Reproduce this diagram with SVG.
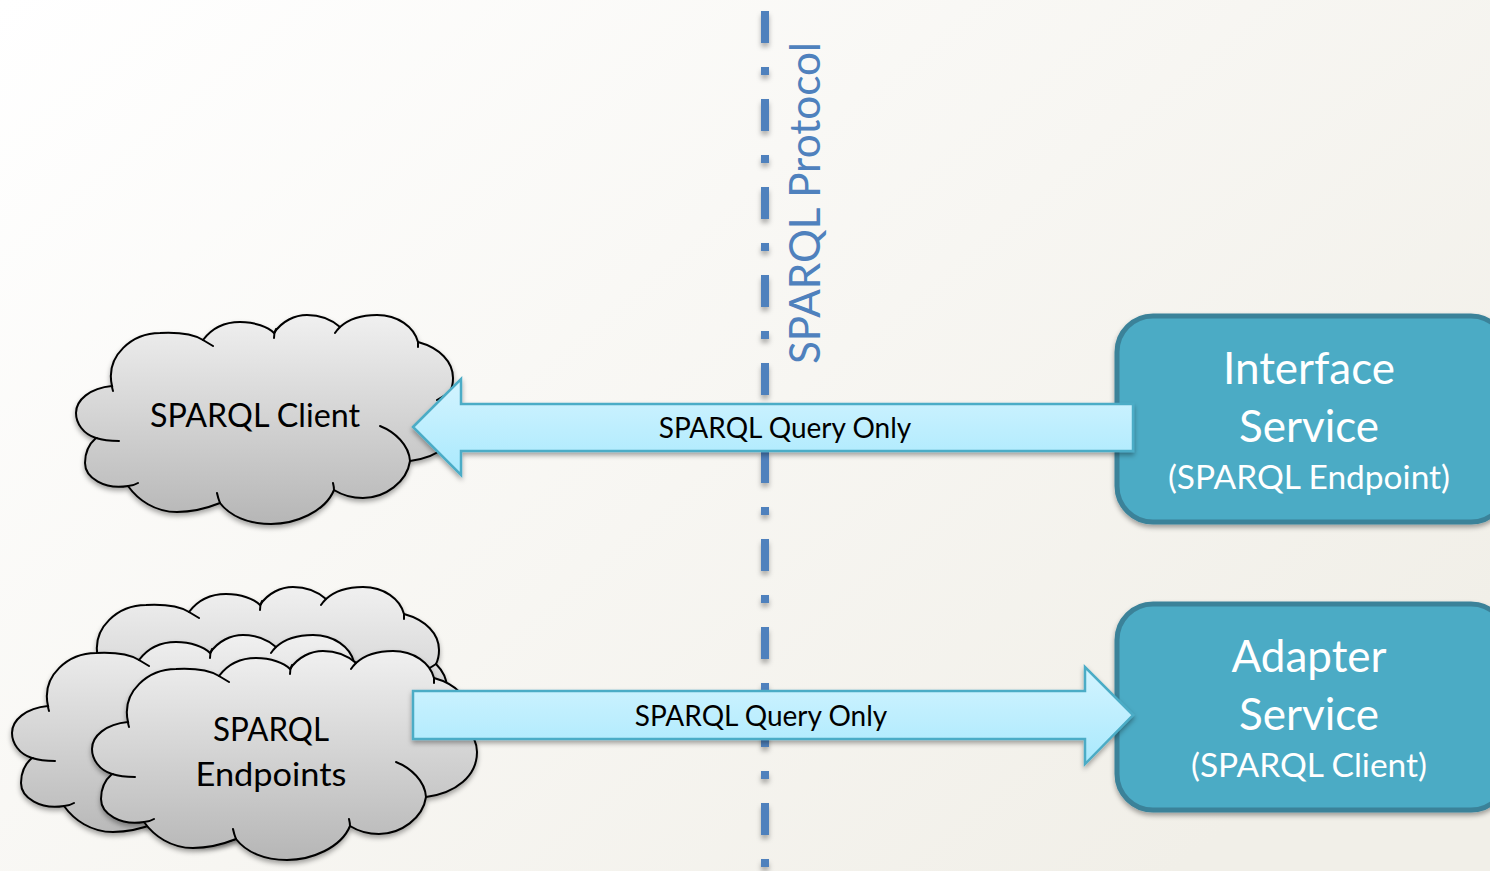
<svg xmlns="http://www.w3.org/2000/svg" width="1490" height="871" viewBox="0 0 1490 871">
<defs>
<linearGradient id="bg" x1="0" y1="0" x2="1" y2="0.7"><stop offset="0" stop-color="#ffffff"/><stop offset="1" stop-color="#f1efe8"/></linearGradient>
<linearGradient id="cg" x1="0" y1="0" x2="0" y2="1"><stop offset="0" stop-color="#f0f0f0"/><stop offset="1" stop-color="#b6b6b6"/></linearGradient>
<linearGradient id="ag" x1="0" y1="0" x2="0" y2="1"><stop offset="0" stop-color="#d4f4ff"/><stop offset="1" stop-color="#a9e9fd"/></linearGradient>
<filter id="sh" x="-10%" y="-10%" width="120%" height="125%"><feDropShadow dx="0" dy="3" stdDeviation="2.5" flood-color="#000" flood-opacity=".35"/></filter>
<filter id="lsh" filterUnits="userSpaceOnUse" x="745" y="0" width="40" height="871"><feDropShadow dx="0" dy="4" stdDeviation="2.5" flood-color="#000" flood-opacity=".3"/></filter>
<g id="cloud">
<path class="cf" d="M112 386C105 355 133 333 160 333C180 332 195 335 203 340C212 328 225 322 240 322C255 322 268 327 274 333C282 321 295 315 307 315C320 315 332 320 340 327C350 318 362 315 377 315C398 315 414 327 418 342C440 348 453 362 453 378C453 384 452 388 450 392C458 400 461 408 461 416C461 440 440 457 410 461C407 482 385 498 363 498C352 498 342 495 334 490C325 512 295 524 271 524C248 524 230 516 220 503C205 509 190 512 177 512C155 512 138 500 128 486C105 490 85 478 85 463C85 452 89 444 96 438C83 434 76 423 76 413C76 400 90 388 112 386Z"/>
<path class="ch" d="M203 340Q208 343 213 346M276 329Q274 333 274 338M340 327Q337 330 335 333M418 342Q418 345 418 347M112 386Q112 388 113 391M96 438Q105 441 119 441M128 486Q133 486 138 483M220 503Q218 498 217 493M334 490Q334 487 333 483M410 461C409 445 395 432 380 426M437 400Q444 396 450 392"/>
</g>
</defs>
<style>
.cf{fill:url(#cg);stroke:#000;stroke-width:2}
.ch{fill:none;stroke:#000;stroke-width:2;stroke-linecap:round}
.ar{fill:url(#ag);stroke:#4bacc6;stroke-width:2.5;filter:url(#sh)}
.box{fill:#4babc5;stroke:#3b8299;stroke-width:5;filter:url(#sh)}
text{font-family:"Lato","Carlito","Liberation Sans",sans-serif;text-anchor:middle}
.t1{font-size:44px;fill:#fff}
.t2{font-size:33.5px;fill:#fff}
.tc{font-size:33px;fill:#000}
.ta{font-size:28px;fill:#000}
.tp{font-size:42.3px;fill:#4f81bd}
</style>
<rect id="background" width="1490" height="871" fill="url(#bg)"/>
<g id="connectors">
<path id="protocol-line" d="M765 11V871" fill="none" stroke="#4f81bd" stroke-width="8" stroke-dasharray="32 24 8 24" filter="url(#lsh)"/>
</g>
<g id="label-protocol"><text class="tp" transform="translate(820 203) rotate(-90)">SPARQL Protocol</text></g>
<g id="sparql-client">
<use href="#cloud" filter="url(#sh)"/>
<text class="tc" x="255" y="427" textLength="210" lengthAdjust="spacingAndGlyphs">SPARQL Client</text>
</g>
<g id="sparql-endpoints">
<use href="#cloud" transform="translate(-14 272)" filter="url(#sh)"/>
<use href="#cloud" transform="translate(-64 320)" filter="url(#sh)"/>
<use href="#cloud" transform="translate(16 336)" filter="url(#sh)"/>
<text class="tc" x="271" y="741" textLength="116" lengthAdjust="spacingAndGlyphs">SPARQL</text>
<text class="tc" x="271" y="786" textLength="151" lengthAdjust="spacingAndGlyphs">Endpoints</text>
</g>
<g id="interface-service">
<rect class="box" x="1117" y="316" width="390" height="206" rx="36"/>
<text class="t1" x="1309" y="384">Interface</text>
<text class="t1" x="1309" y="442">Service</text>
<text class="t2" x="1309" y="489">(SPARQL Endpoint)</text>
</g>
<g id="adapter-service">
<rect class="box" x="1117" y="604" width="390" height="206" rx="36"/>
<text class="t1" x="1309" y="672">Adapter</text>
<text class="t1" x="1309" y="730">Service</text>
<text class="t2" x="1309" y="777">(SPARQL Client)</text>
</g>
<g id="arrows">
<g id="arrow-query-left">
<path class="ar" d="M413 427L461 379V404H1133V451H461V475Z"/>
<text class="ta" x="785" y="438">SPARQL Query Only</text>
</g>
<g id="arrow-query-right">
<path class="ar" d="M1133 715L1085 667V691H413V739H1085V764Z"/>
<text class="ta" x="761" y="726">SPARQL Query Only</text>
</g>
</g>
</svg>
